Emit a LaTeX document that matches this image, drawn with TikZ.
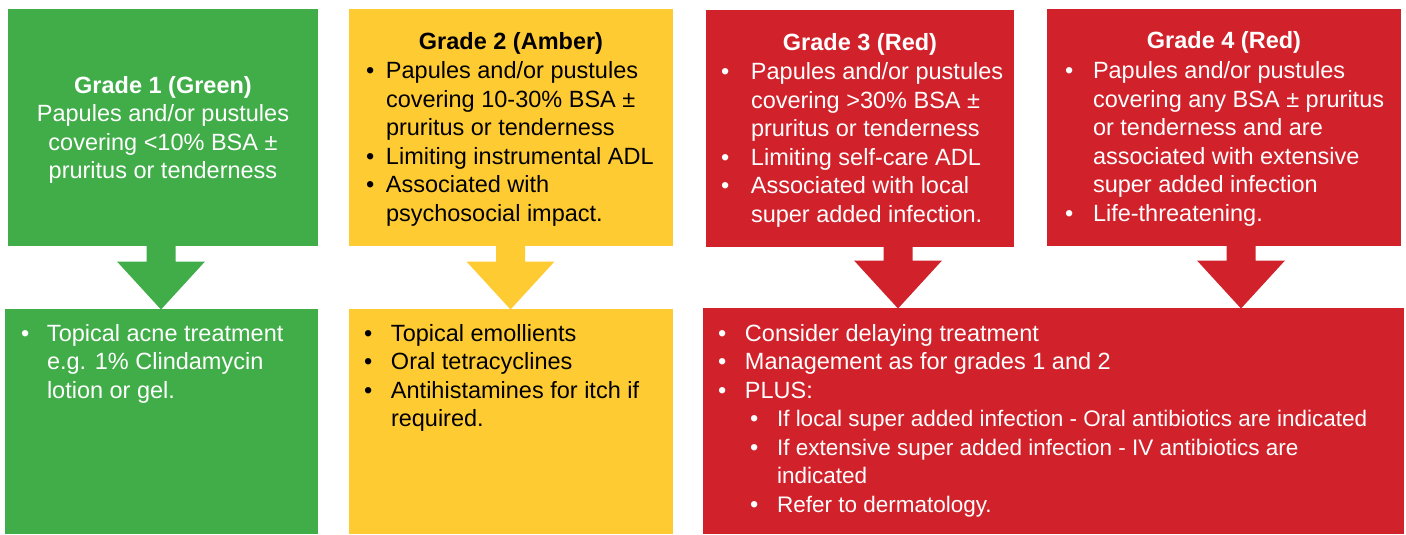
\documentclass[tikz,border=0pt]{standalone}
\usepackage{fontspec}
\setmainfont{Liberation Sans}
\usetikzlibrary{calc}
\definecolor{cgreen}{RGB}{65,173,73}
\definecolor{camber}{RGB}{255,203,51}
\definecolor{cred}{RGB}{209,34,43}
\newcommand\fsz{\fontsize{23.5pt}{28.5pt}\selectfont}
\newcommand\fsm{\fontsize{22.5pt}{28.5pt}\selectfont}
\newcommand\bul[1]{\makebox[#1][l]{•}}
\newcommand\blockarrow[4]{%
  \fill[#1] ($(#2.south -| #4)+(-14.5,-1)$) -- ($(#2.south -| #4)+(14.5,-1)$)
    -- ($(#3.north -| #4)+(14.5,-47.5)$) -- ($(#3.north -| #4)+(44,-47.5)$)
    -- ($(#3.north -| #4)+(0,0.5)$) -- ($(#3.north -| #4)+(-44,-47.5)$)
    -- ($(#3.north -| #4)+(-14.5,-47.5)$) -- cycle;}
\begin{document}
\begin{tikzpicture}[x=1pt,y=-1pt,
  box/.style={rectangle,inner sep=0pt,outer sep=0pt,anchor=north west},
  txt/.style={inner sep=0pt,outer sep=0pt,anchor=base west,font=\fsz},
  ttl/.style={inner sep=0pt,outer sep=0pt,anchor=base,font=\fsz\bfseries}]
\useasboundingbox[fill=white] (0,0) rectangle (1406,535);
% top boxes
\node[box,fill=cgreen,minimum width=310pt,minimum height=237pt] (t1) at (8,9) {};
\node[box,fill=camber,minimum width=324pt,minimum height=237pt] (t2) at (349,9) {};
\node[box,fill=cred,minimum width=308pt,minimum height=237pt] (t3) at (706,10) {};
\node[box,fill=cred,minimum width=354pt,minimum height=237pt] (t4) at (1047,9) {};
% bottom boxes
\node[box,fill=cgreen,minimum width=313pt,minimum height=225pt] (b1) at (5,309) {};
\node[box,fill=camber,minimum width=324pt,minimum height=225pt] (b2) at (349,309) {};
\node[box,fill=cred,minimum width=701pt,minimum height=226pt] (b3) at (703,308) {};
% arrows
\coordinate (a1) at (161,0);
\coordinate (a2) at (510.5,0);
\coordinate (a3) at (898,0);
\coordinate (a4) at (1241,0);
\blockarrow{cgreen}{t1}{b1}{a1}
\blockarrow{camber}{t2}{b2}{a2}
\blockarrow{cred}{t3}{b3}{a3}
\blockarrow{cred}{t4}{b3}{a4}
% texts top
\node[txt,anchor=base,text=white] (t1txt) at (163,93) {\begin{tabular}[t]{@{}c@{}}\bfseries Grade 1 (Green)\\ Papules and/or pustules\\ covering <10\% BSA ±\\ pruritus or tenderness\end{tabular}};
\node[ttl,text=black] (t2ttl) at (511,50) {Grade 2 (Amber)};
\node[txt,text=black] (t2txt) at (366,79) {\begin{tabular}[t]{@{}l@{}l@{}}\bul{20pt}&Papules and/or pustules\\ &covering 10-30\% BSA ±\\ &pruritus or tenderness\\ \bul{20pt}&Limiting instrumental ADL\\ \bul{20pt}&Associated with\\ &psychosocial impact.\end{tabular}};
\node[ttl,text=white] (t3ttl) at (860,51) {Grade 3 (Red)};
\node[txt,text=white] (t3txt) at (721,80) {\begin{tabular}[t]{@{}l@{}l@{}}\bul{30pt}&Papules and/or pustules\\ &covering >30\% BSA ±\\ &pruritus or tenderness\\ \bul{30pt}&Limiting self-care ADL\\ \bul{30pt}&Associated with local\\ &super added infection.\end{tabular}};
\node[ttl,text=white] (t4ttl) at (1224,49) {Grade 4 (Red)};
\node[txt,text=white] (t4txt) at (1065,79) {\begin{tabular}[t]{@{}l@{}l@{}}\bul{28pt}&Papules and/or pustules\\ &covering any BSA ± pruritus\\ &or tenderness and are\\ &associated with extensive\\ &super added infection\\ \bul{28pt}&Life-threatening.\end{tabular}};
% texts bottom
\node[txt,text=white] (b1txt) at (21,341) {\begin{tabular}[t]{@{}l@{}l@{}}\bul{26pt}&Topical acne treatment\\ &e.g. 1\% Clindamycin\\ &lotion or gel.\end{tabular}};
\node[txt,text=black] (b2txt) at (364,341) {\begin{tabular}[t]{@{}l@{}l@{}}\bul{27pt}&Topical emollients\\ \bul{27pt}&Oral tetracyclines\\ \bul{27pt}&Antihistamines for itch if\\ &required.\end{tabular}};
\node[txt,text=white] (b3txt) at (718,341) {\begin{tabular}[t]{@{}l@{}l@{}l@{}}\bul{27pt}&\multicolumn{2}{@{}l@{}}{Consider delaying treatment}\\ \bul{27pt}&\multicolumn{2}{@{}l@{}}{Management as for grades 1 and 2}\\ \bul{27pt}&\multicolumn{2}{@{}l@{}}{PLUS:}\\ &\hspace{5pt}\bul{27pt}&\fsm If local super added infection - Oral antibiotics are indicated\\ &\hspace{5pt}\bul{27pt}&\fsm If extensive super added infection - IV antibiotics are\\ & &\fsm indicated\\ &\hspace{5pt}\bul{27pt}&\fsm Refer to dermatology.\end{tabular}};
\end{tikzpicture}
\end{document}
